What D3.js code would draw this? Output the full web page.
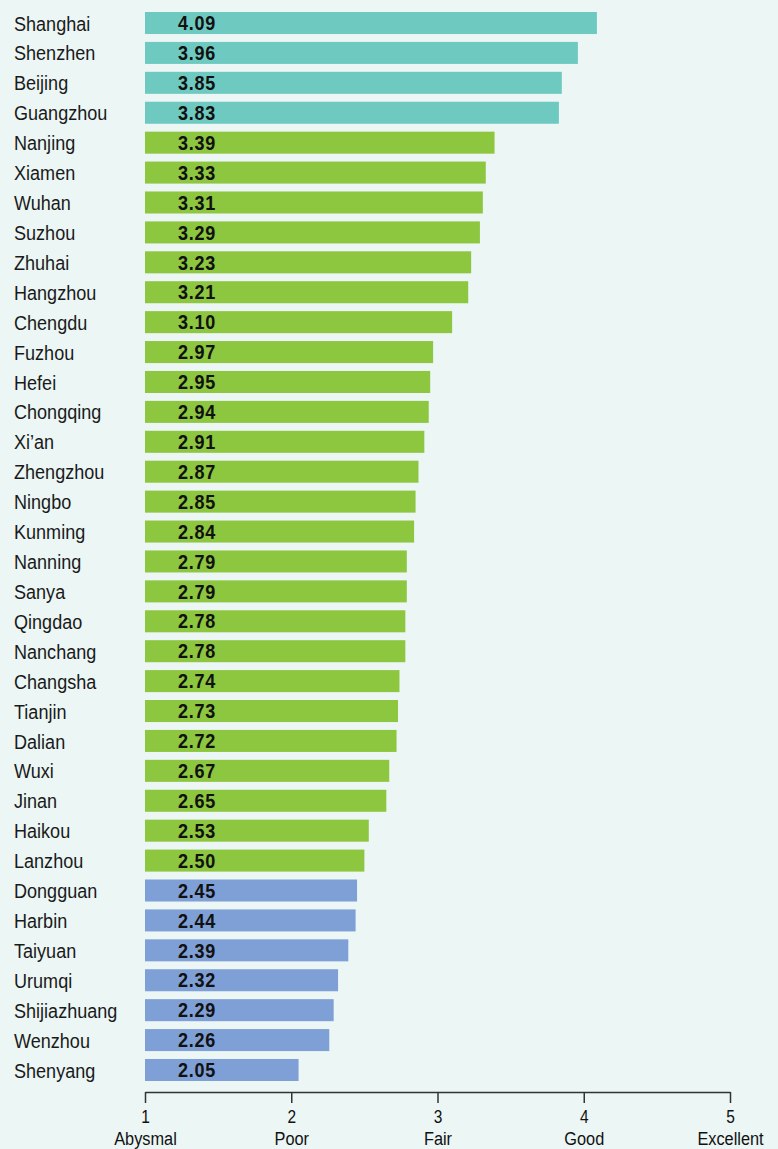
<!DOCTYPE html>
<html>
<head>
<meta charset="utf-8">
<script src="https://cdn.jsdelivr.net/npm/d3@7"></script>
<style>
  body { margin: 0; background: #ebf6f5; }
  svg { display: block; }
  text { font-family: "Liberation Sans", Arial, sans-serif; }
</style>
</head>
<body>
<svg id="chart"></svg>
<script>
// city scores, top to bottom
const cities = ['Shanghai', 'Shenzhen', 'Beijing', 'Guangzhou', 'Nanjing', 'Xiamen', 'Wuhan', 'Suzhou',
  'Zhuhai', 'Hangzhou', 'Chengdu', 'Fuzhou', 'Hefei', 'Chongqing', 'Xi\u2019an', 'Zhengzhou', 'Ningbo',
  'Kunming', 'Nanning', 'Sanya', 'Qingdao', 'Nanchang', 'Changsha', 'Tianjin', 'Dalian', 'Wuxi', 'Jinan',
  'Haikou', 'Lanzhou', 'Dongguan', 'Harbin', 'Taiyuan', 'Urumqi', 'Shijiazhuang', 'Wenzhou', 'Shenyang'];
const scores = [4.09, 3.96, 3.85, 3.83, 3.39, 3.33, 3.31, 3.29, 3.23, 3.21, 3.10, 2.97, 2.95, 2.94, 2.91,
  2.87, 2.85, 2.84, 2.79, 2.79, 2.78, 2.78, 2.74, 2.73, 2.72, 2.67, 2.65, 2.53, 2.50, 2.45, 2.44, 2.39,
  2.32, 2.29, 2.26, 2.05];
// tier of each city: 0 = top, 1 = middle, 2 = bottom
const tiers = [0, 0, 0, 0, 1, 1, 1, 1, 1, 1, 1, 1, 1, 1, 1, 1, 1, 1, 1, 1, 1, 1, 1, 1, 1, 1, 1, 1, 1,
  2, 2, 2, 2, 2, 2, 2];
const tickValues = [1, 2, 3, 4, 5];
const tickNames = ['Abysmal', 'Poor', 'Fair', 'Good', 'Excellent'];

const width = 778, height = 1149;
const tierColors = ['#6ecac0', '#8dc63f', '#7fa0d6'];
const squeeze = 'scale(0.86,1)'; // fake a condensed face

const svg = d3.select('#chart')
  .attr('width', width)
  .attr('height', height);

svg.append('rect')
  .attr('width', width)
  .attr('height', height)
  .attr('fill', '#ebf6f5');

const x = d3.scaleLinear().domain([1, 5]).range([145, 730]);
const y = d3.scaleBand().domain(cities).range([12, 1081]).paddingInner(0.264).paddingOuter(0);

const rows = svg.append('g')
  .selectAll('g')
  .data(cities)
  .enter()
  .append('g');

rows.append('rect')
  .attr('x', x(1))
  .attr('y', d => y(d))
  .attr('width', (d, i) => x(scores[i]) - x(1))
  .attr('height', y.bandwidth())
  .attr('fill', (d, i) => tierColors[tiers[i]]);

rows.append('text')
  .attr('transform', d => `translate(14,${y(d) + y.bandwidth() / 2}) ${squeeze}`)
  .attr('dy', '0.36em')
  .style('font-size', '21px')
  .style('fill', '#1a1a1a')
  .text(d => d);

rows.append('text')
  .attr('transform', d => `translate(178,${y(d) + y.bandwidth() / 2}) scale(0.9,1)`)
  .attr('dy', '0.36em')
  .style('font-size', '20px')
  .style('font-weight', 'bold')
  .style('letter-spacing', '0.8px')
  .style('fill', '#111')
  .text((d, i) => scores[i].toFixed(2));

// bottom axis
const axis = svg.append('g')
  .attr('transform', 'translate(0,1092)')
  .call(d3.axisBottom(x).tickValues(tickValues).tickSize(11).tickSizeOuter(0).tickFormat(d3.format('d')));

axis.select('.domain').attr('stroke', '#333').attr('stroke-width', 1.5);
axis.selectAll('.tick line').attr('stroke', '#333').attr('stroke-width', 1.5);
axis.selectAll('.tick text')
  .attr('y', 31)
  .attr('dy', null)
  .attr('transform', squeeze)
  .style('font-size', '18px')
  .style('font-family', null)
  .style('fill', '#111');

axis.selectAll('.tick')
  .append('text')
  .attr('y', 53)
  .attr('text-anchor', 'middle')
  .attr('transform', squeeze)
  .style('font-size', '19px')
  .style('fill', '#111')
  .text((d, i) => tickNames[i]);
</script>
</body>
</html>
